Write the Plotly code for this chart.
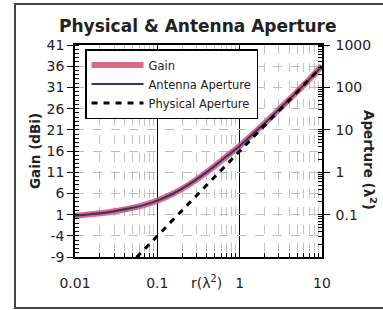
import plotly.graph_objects as go

# ---- data ----
r_gain = [0.01, 0.02, 0.03, 0.05, 0.07, 0.1, 0.15, 0.2, 0.3, 0.5, 0.7, 1, 1.5, 2, 3, 5, 7, 10]
gain_dbi = [0.7, 1.3, 1.8, 2.6, 3.3, 4.3, 5.8, 7.1, 9.3, 12.5, 14.8, 17.2, 20.3, 22.5, 25.8, 30.0, 32.9, 36.0]
antenna_aperture = [0.0935, 0.1074, 0.1205, 0.1448, 0.1701, 0.2142, 0.3026, 0.4082, 0.6773, 1.415,
                    2.403, 4.176, 8.532, 14.15, 30.26, 79.58, 155.2, 316.8]
r_phys = [0.056, 0.07, 0.1, 0.15, 0.2, 0.3, 0.5, 0.7, 1, 1.5, 2, 3, 5, 7, 10]
physical_aperture = [0.00985, 0.0154, 0.0314, 0.0707, 0.126, 0.283, 0.785, 1.54, 3.14, 7.07,
                     12.6, 28.3, 78.5, 154, 314]

x_ticks = [0.01, 0.1, 1, 10]
x_ticktext = ["0.01", "0.1", "1", "10"]
gain_ticks = [-9, -4, 1, 6, 11, 16, 21, 26, 31, 36, 41]
gain_ticktext = ["-9", "-4", "1", "6", "11", "16", "21", "26", "31", "36", "41"]
ap_ticks = [0.01, 0.1, 1, 10, 100, 1000]
ap_ticktext = ["0.01", "0.1", "1", "10", "100", "1000"]

FONT = "DejaVu Sans"
TXT = "#222"

fig = go.Figure()
fig.add_trace(go.Scatter(x=r_gain, y=gain_dbi, name="Gain", mode="lines",
                         line=dict(color="rgba(214,80,110,0.85)", width=6, shape="spline")))
fig.add_trace(go.Scatter(x=r_gain, y=antenna_aperture, name="Antenna Aperture", mode="lines",
                         yaxis="y2", line=dict(color="#33336e", width=2, shape="spline")))
fig.add_trace(go.Scatter(x=r_phys, y=physical_aperture, name="Physical Aperture", mode="lines",
                         yaxis="y2", line=dict(color="black", width=3, dash="6px,6px")))

L, R, T, B = 75, 61, 45, 53
W, H = 383, 310
pw, ph = W - L - R, H - T - B

def px(x):
    return (x - L) / pw

def py(y):
    return (H - B - y) / ph

fig.update_layout(
    width=W, height=H,
    margin=dict(l=L, r=R, t=T, b=B, pad=0),
    paper_bgcolor="white", plot_bgcolor="white",
    font=dict(family=FONT, size=13, color=TXT),
    showlegend=True,
    legend=dict(x=px(85), y=py(49), xanchor="left", yanchor="top",
                bgcolor="white", bordercolor="black", borderwidth=1.5,
                font=dict(size=11.5, color=TXT), itemwidth=52,
                tracegroupgap=0),
    xaxis=dict(type="log", range=[-2, 1], tickvals=x_ticks, ticktext=x_ticktext,
               ticks="inside", ticklen=7, tickcolor="black", ticklabelstandoff=12,
               showline=True, linecolor="black", linewidth=1.5, mirror=True,
               showgrid=True, gridcolor="black", gridwidth=1, zeroline=False,
               tickfont=dict(size=14, color=TXT),
               minor=dict(dtick="D1", ticks="inside", ticklen=4, tickcolor="black",
                          showgrid=True, gridcolor="#c4c4c4", griddash="dash", gridwidth=1)),
    yaxis=dict(range=[-9, 41], tickvals=gain_ticks, ticktext=gain_ticktext,
               ticks="outside", ticklen=6, tickcolor="black",
               showline=True, linecolor="black", linewidth=1.5,
               showgrid=True, gridcolor="#bdbdbd", griddash="dash", zeroline=False,
               tickfont=dict(size=14, color=TXT),
               minor=dict(dtick=1, ticks="inside", ticklen=4, tickcolor="black", showgrid=False)),
    yaxis2=dict(type="log", overlaying="y", side="right",
                range=[-1.9992, 3.0008], tickvals=ap_ticks, ticktext=ap_ticktext,
                ticks="outside", ticklen=6, tickcolor="black", ticklabelstandoff=3,
                showline=True, linecolor="black", linewidth=1.5,
                showgrid=False, zeroline=False,
                tickfont=dict(size=14, color=TXT),
                minor=dict(dtick="D1", ticks="inside", ticklen=4, tickcolor="black", showgrid=False)),
    annotations=[
        dict(text="<b>Physical &amp; Antenna Aperture</b>", xref="paper", yref="paper",
             x=px(198), y=py(26), xanchor="center", yanchor="middle", showarrow=False,
             font=dict(size=17, color=TXT)),
        dict(text="<b>Gain (dBi)</b>", xref="paper", yref="paper",
             x=px(35), y=py(151), xanchor="center", yanchor="middle", showarrow=False,
             textangle=-90, font=dict(size=13.5, color=TXT)),
        dict(text="<b>Aperture (λ<sup>2</sup>)</b>", xref="paper", yref="paper",
             x=px(370), y=py(160), xanchor="center", yanchor="middle", showarrow=False,
             textangle=90, font=dict(size=13.5, color=TXT)),
        dict(text="r(λ<sup>2</sup>)", xref="paper", yref="paper",
             x=px(206), y=py(282), xanchor="center", yanchor="middle", showarrow=False,
             font=dict(size=14, color=TXT)),
    ],
    shapes=[
        dict(type="rect", xref="paper", yref="paper",
             x0=px(15), x1=px(392), y0=py(308), y1=py(4),
             line=dict(color="#444", width=2), fillcolor="rgba(0,0,0,0)", layer="below"),
    ],
)

fig.write_html("out.html", config={"displayModeBar": False},
               post_script="document.body.style.margin='0';document.body.style.overflow='hidden';")
